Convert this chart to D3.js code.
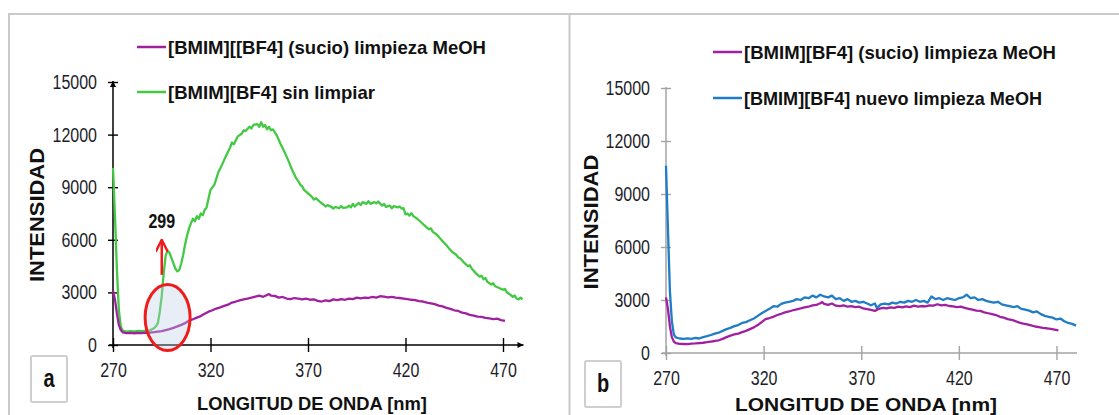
<!DOCTYPE html>
<html>
<head>
<meta charset="utf-8">
<script src="https://cdn.jsdelivr.net/npm/d3@7"></script>
<style>
body{margin:0;background:#fff;}
svg{display:block;font-family:"Liberation Sans",Arial,sans-serif;}
</style>
</head>
<body>
<svg id="chart" width="1119" height="415"></svg>
<script>
// tick values and labels
var xTicks=[270,320,370,420,470];
var yTicks=[0,3000,6000,9000,12000,15000];
var legendA=["[BMIM][[BF4] (sucio) limpieza MeOH","[BMIM][BF4] sin limpiar"];
var legendB=["[BMIM][BF4] (sucio) limpieza MeOH","[BMIM][BF4] nuevo limpieza MeOH"];
var xTitle="LONGITUD DE ONDA [nm]";
var yTitle="INTENSIDAD";
var peakLabel="299";

// [nm, intensity]
var sucioA=[[270,3100],[271,2600],[272,1800],[273,1150],[274,850],[275,720],[277,680],[279,690],[281,670],[283,690],[285,680],[287,700],[289,710],[291,730],[293,760],[295,790],[297,850],[299,910],[301,980],[303,1060],[305,1150],[307,1250],[309,1380],[311,1470],[313,1560],[315,1650],[317,1780],[319,1900],[321,1980],[323,2080],[325,2150],[327,2230],[329,2300],[331,2420],[333,2480],[335,2550],[337,2600],[339,2650],[341,2700],[343,2760],[345,2820],[347,2750],[349,2850],[350,2900],[351,2820],[353,2800],[355,2700],[357,2740],[359,2650],[361,2620],[363,2680],[365,2640],[367,2600],[369,2650],[371,2580],[373,2600],[375,2520],[377,2480],[379,2550],[381,2500],[383,2600],[385,2560],[387,2620],[389,2580],[391,2650],[393,2620],[395,2700],[397,2660],[399,2700],[401,2680],[403,2740],[405,2700],[407,2780],[409,2760],[411,2720],[413,2750],[415,2700],[417,2680],[419,2650],[421,2620],[423,2580],[425,2560],[427,2500],[429,2480],[431,2420],[433,2380],[435,2330],[437,2250],[439,2200],[441,2120],[443,2060],[445,1980],[447,1940],[449,1850],[451,1800],[453,1720],[455,1680],[457,1620],[459,1600],[461,1550],[463,1520],[465,1480],[467,1500],[469,1420],[471,1380]];

var sinLimpiar=[[270,10100],[271,7400],[272,4300],[273,2000],[274,1050],[275,820],[277,760],[279,790],[281,770],[283,800],[285,790],[287,820],[289,840],[291,960],[292,1060],[293,1250],[294,1900],[295,2800],[296,4100],[297,5100],[298,5400],[299,5250],[300,4950],[301,4650],[302,4350],[303,4200],[304,4280],[305,4650],[306,5150],[307,5750],[308,6250],[309,6650],[310,6950],[311,7200],[312,7050],[313,7350],[314,7200],[315,7500],[316,7400],[317,7700],[318,7850],[319,8350],[320,8850],[322,9150],[324,9850],[326,10300],[328,10800],[330,11250],[331,11550],[332,11450],[334,11900],[336,12050],[337,12250],[338,12200],[340,12450],[341,12350],[342,12550],[344,12600],[345,12450],[346,12700],[347,12450],[348,12550],[349,12300],[350,12450],[351,12250],[352,12300],[354,11950],[356,11450],[358,11000],[360,10500],[362,9950],[364,9500],[365,9350],[366,9150],[367,9050],[368,8850],[370,8650],[372,8450],[373,8300],[374,8380],[376,8180],[378,8000],[379,7900],[380,7980],[382,7880],[383,7780],[384,7880],[386,7800],[387,7920],[388,7820],[390,7850],[391,7950],[392,7850],[393,8050],[394,7900],[396,8100],[397,7980],[398,8150],[400,8050],[401,8200],[402,8050],[404,8150],[405,8080],[406,8180],[408,7950],[409,8050],[410,7880],[412,7950],[413,7800],[414,7920],[416,7850],[417,7900],[418,7780],[419,7800],[420,7450],[421,7500],[422,7380],[423,7520],[424,7350],[426,7200],[428,7000],[430,6800],[432,6600],[433,6650],[434,6450],[436,6300],[438,6050],[440,5800],[441,5700],[442,5550],[444,5300],[446,5150],[447,5000],[448,4950],[450,4700],[452,4500],[453,4550],[454,4350],[456,4100],[458,3900],[459,3950],[460,3750],[461,3820],[462,3600],[464,3450],[465,3520],[466,3350],[468,3250],[470,3150],[471,3200],[472,3000],[474,2850],[475,2750],[476,2820],[477,2650],[478,2600],[479,2700],[480,2600]];

var sucioB=[[270,3150],[271,2500],[272,1500],[273,900],[274,650],[275,560],[277,520],[279,510],[281,500],[283,530],[285,540],[287,560],[289,580],[291,610],[293,650],[295,680],[297,720],[299,800],[301,900],[303,980],[305,1050],[307,1100],[309,1180],[311,1250],[313,1350],[315,1450],[317,1580],[319,1750],[321,1920],[323,1980],[325,2050],[327,2150],[329,2220],[331,2300],[333,2350],[335,2420],[337,2470],[339,2520],[341,2580],[343,2620],[345,2700],[347,2720],[349,2820],[350,2880],[351,2780],[353,2720],[355,2800],[357,2680],[359,2650],[361,2700],[363,2620],[365,2650],[367,2600],[369,2620],[371,2520],[373,2480],[375,2440],[377,2380],[379,2500],[381,2550],[383,2520],[385,2580],[387,2560],[389,2620],[391,2580],[393,2640],[395,2600],[397,2680],[399,2620],[401,2660],[403,2640],[405,2700],[407,2680],[409,2760],[411,2700],[413,2720],[415,2660],[417,2640],[419,2600],[421,2620],[423,2550],[425,2500],[427,2450],[429,2400],[431,2380],[433,2300],[435,2250],[437,2200],[439,2150],[441,2050],[443,2000],[445,1920],[447,1880],[449,1800],[451,1720],[453,1660],[455,1620],[457,1560],[459,1500],[461,1460],[463,1420],[465,1400],[467,1360],[469,1320],[471,1280]];

var nuevo=[[270,10600],[271,7000],[272,3500],[273,1800],[274,1050],[275,880],[277,820],[279,800],[281,830],[283,800],[285,850],[287,820],[289,900],[291,950],[293,1020],[295,1100],[297,1150],[299,1250],[301,1350],[303,1420],[305,1520],[307,1580],[309,1700],[311,1750],[313,1850],[315,1950],[317,2100],[319,2250],[321,2380],[323,2500],[325,2650],[327,2620],[329,2780],[331,2850],[333,2900],[335,2950],[337,3050],[339,3000],[341,3150],[343,3100],[345,3250],[347,3150],[349,3300],[351,3200],[353,3150],[355,3250],[357,3050],[359,3100],[361,2950],[363,3050],[365,2900],[367,2950],[369,2850],[371,2900],[373,2800],[375,2700],[377,2800],[378,2550],[380,2750],[382,2800],[384,2750],[386,2850],[388,2800],[390,2900],[392,2850],[394,2950],[396,2900],[398,3000],[400,2900],[402,2950],[404,2850],[406,3200],[408,3050],[410,3100],[412,3000],[414,3100],[416,3050],[418,3000],[420,3100],[422,3150],[424,3300],[426,3100],[428,3150],[430,3000],[432,3050],[434,2950],[436,2900],[438,2850],[440,2900],[442,2750],[444,2700],[446,2650],[448,2600],[450,2650],[452,2500],[454,2450],[456,2400],[458,2300],[460,2350],[462,2200],[464,2100],[466,2050],[468,2000],[470,1900],[472,1950],[474,1800],[476,1700],[478,1650],[480,1550]];

var purple="#a0209f", green="#44c944", blue="#1f7cc6";

var svg=d3.select("#chart");

// squeeze text horizontally, the original lettering is narrow
var squeeze=function(sel,factor)
{
    sel.each(function(){
        var w=this.getComputedTextLength();
        d3.select(this).attr("textLength",w*factor).attr("lengthAdjust","spacingAndGlyphs");
    });
}

var drawFrame=function()
{
    var f=svg.append("g").attr("stroke","#c9c9c9").attr("stroke-width",2);
    f.append("line").attr("x1",8).attr("x2",1119).attr("y1",14).attr("y2",14);
    f.append("line").attr("x1",9).attr("x2",9).attr("y1",14).attr("y2",415);
    f.append("line").attr("x1",569.5).attr("x2",569.5).attr("y1",14).attr("y2",415);
}

var defs=svg.append("defs");
defs.append("marker").attr("id","arrowBlack")
    .attr("viewBox","0 0 10 10").attr("refX",10).attr("refY",5)
    .attr("markerUnits","userSpaceOnUse").attr("markerWidth",10).attr("markerHeight",6)
    .attr("orient","auto")
    .append("path").attr("d","M0,0L10,5L0,10z").attr("fill","#000");
defs.append("marker").attr("id","arrowRed")
    .attr("viewBox","0 0 10 10").attr("refX",10).attr("refY",5)
    .attr("markerUnits","userSpaceOnUse").attr("markerWidth",14).attr("markerHeight",12)
    .attr("orient","auto")
    .append("path").attr("d","M0,0L10,5L0,10").attr("fill","none").attr("stroke","#ee1c1c").attr("stroke-width",2);

var drawAxes=function(xScale,yScale,color,arrows)
{
    var g=svg.append("g");
    var x0=xScale(270), y0=yScale(0);

    var yAxis=d3.axisLeft(yScale).tickValues(yTicks).tickFormat(d3.format("d")).tickSize(5).tickPadding(11);
    var gy=g.append("g").attr("transform","translate("+x0+",0)").call(yAxis)
        .attr("font-family",null).attr("font-size",null);
    gy.select(".domain").remove();
    gy.selectAll(".tick line").attr("x1",5).attr("stroke",color).attr("stroke-width",1.4);
    gy.selectAll(".tick text").attr("font-size",20).attr("fill","#1e1e2a").call(squeeze,0.8);

    var xAxis=d3.axisBottom(xScale).tickValues(xTicks).tickFormat(d3.format("d")).tickSize(7).tickPadding(11);
    var gx=g.append("g").attr("transform","translate(0,"+y0+")").call(xAxis)
        .attr("font-family",null).attr("font-size",null);
    gx.select(".domain").remove();
    gx.selectAll(".tick line").attr("y1",-7).attr("stroke",color).attr("stroke-width",1.4);
    gx.selectAll(".tick text").attr("font-size",20).attr("fill","#1e1e2a").call(squeeze,0.8);

    var ly=g.append("line").attr("x1",x0).attr("x2",x0)
        .attr("y1",y0+3).attr("y2",yScale(15000)-1)
        .attr("stroke",color).attr("stroke-width",1.5);
    var lx=g.append("line").attr("x1",x0-4).attr("x2",xScale(480)+1)
        .attr("y1",y0).attr("y2",y0)
        .attr("stroke",color).attr("stroke-width",1.5);
    if(arrows)
    {
        ly.attr("marker-end","url(#arrowBlack)");
        lx.attr("marker-end","url(#arrowBlack)");
    }
}

var drawTitles=function(xc,yc,yx,yy,xLen,yLen)
{
    var t=svg.append("g").attr("font-weight","bold").attr("fill","#111");
    t.append("text").text(xTitle)
        .attr("x",xc).attr("y",yc).attr("text-anchor","middle")
        .attr("font-size",19)
        .attr("textLength",xLen).attr("lengthAdjust","spacingAndGlyphs");
    t.append("text").text(yTitle)
        .attr("text-anchor","middle").attr("dy","0.36em")
        .attr("transform","translate("+yx+","+yy+") rotate(-90)")
        .attr("font-size",21)
        .attr("textLength",yLen).attr("lengthAdjust","spacingAndGlyphs");
}

var drawLines=function(series,xScale,yScale)
{
    var line=d3.line().x(function(d){return xScale(d[0]);}).y(function(d){return yScale(d[1]);});
    svg.append("g").selectAll("path")
        .data(series)
        .enter()
        .append("path")
        .attr("d",function(s){return line(s.values);})
        .attr("fill","none")
        .attr("stroke",function(s){return s.color;})
        .attr("stroke-width",2.3)
        .attr("stroke-linejoin","round");
}

var drawLegend=function(names,colors,x,ys,widths)
{
    var legend=svg.append("g");
    var entries=legend.selectAll("g")
        .data(names)
        .enter()
        .append("g")
        .attr("transform",function(d,i){return "translate("+x+","+ys[i]+")";});
    entries.append("line")
        .attr("x1",0).attr("x2",29).attr("y1",0).attr("y2",0)
        .attr("stroke",function(d,i){return colors[i];})
        .attr("stroke-width",2.5);
    entries.append("text")
        .text(function(d){return d;})
        .attr("x",31).attr("y",7)
        .attr("font-size",19).attr("font-weight","bold").attr("fill","#111")
        .attr("textLength",function(d,i){return widths[i];})
        .attr("lengthAdjust","spacingAndGlyphs");
}

var drawTag=function(letter,x,y,w,h)
{
    var g=svg.append("g");
    g.append("rect").attr("x",x).attr("y",y).attr("width",w).attr("height",h)
        .attr("fill","#fff").attr("stroke","#cfcfcf").attr("stroke-width",2).attr("rx",1.5);
    g.append("text").text(letter)
        .attr("x",x+w/2).attr("y",y+h/2+8).attr("text-anchor","middle")
        .attr("font-size",25).attr("font-weight","bold").attr("fill","#111")
        .call(squeeze,0.8);
}

var drawPeakNote=function(xScale,yScale)
{
    var g=svg.append("g");
    g.append("ellipse")
        .attr("cx",xScale(298)).attr("cy",yScale(1570))
        .attr("rx",22.5).attr("ry",33)
        .attr("fill","rgba(190,205,228,0.35)")
        .attr("stroke","#ee1c1c").attr("stroke-width",3);
    g.append("line")
        .attr("x1",xScale(295)).attr("x2",xScale(295))
        .attr("y1",yScale(4000)).attr("y2",yScale(6000))
        .attr("stroke","#ee1c1c").attr("stroke-width",2.5)
        .attr("marker-end","url(#arrowRed)");
    g.append("text").text(peakLabel)
        .attr("x",xScale(295)).attr("y",yScale(6700))
        .attr("text-anchor","middle")
        .attr("font-size",20).attr("font-weight","bold").attr("fill","#111")
        .call(squeeze,0.8);
}

var initChart=function()
{
    drawFrame();

    // panel a
    var xA=d3.scaleLinear().domain([270,480]).range([113,522.5]);
    var yA=d3.scaleLinear().domain([0,15000]).range([345,82]);
    drawAxes(xA,yA,"#000",true);
    drawLines([{values:sinLimpiar,color:green},{values:sucioA,color:purple}],xA,yA);
    drawPeakNote(xA,yA);
    drawLegend(legendA,[purple,green],137,[47,92],[318,207]);
    drawTitles(312,410,36,215,230,134);
    drawTag("a",31,356,36,46);

    // panel b
    var xB=d3.scaleLinear().domain([270,480]).range([666,1076]);
    var yB=d3.scaleLinear().domain([0,15000]).range([353,88]);
    drawAxes(xB,yB,"#a3a3a3",false);
    drawLines([{values:nuevo,color:blue},{values:sucioB,color:purple}],xB,yB);
    drawLegend(legendB,[purple,blue],713,[52,98],[312,298]);
    drawTitles(866,411,590,222,262,135);
    drawTag("b",585,361,36,46);
}

initChart();
</script>
</body>
</html>
